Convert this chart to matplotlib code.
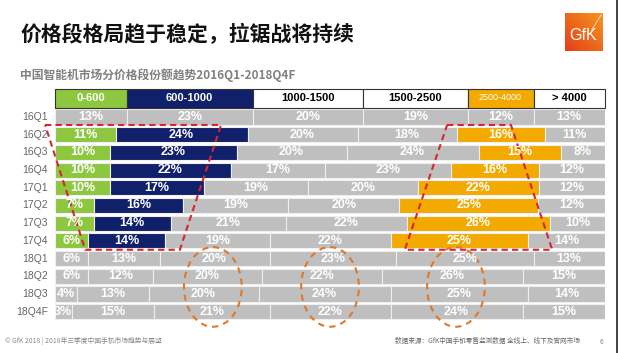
import numpy as np
import matplotlib.pyplot as plt
from matplotlib.patches import Ellipse, Polygon

plt.rcParams['font.family'] = ['Noto Sans CJK SC', 'DejaVu Sans']

# data
periods = ['16Q1', '16Q2', '16Q3', '16Q4', '17Q1', '17Q2', '17Q3', '17Q4',
           '18Q1', '18Q2', '18Q3', '18Q4F']
bands = ['0-600', '600-1000', '1000-1500', '1500-2500', '2500-4000', '> 4000']
p0_600 = [13, 11, 10, 10, 10, 7, 7, 6, 6, 6, 4, 3]
p600_1000 = [23, 24, 23, 22, 17, 16, 14, 14, 13, 12, 13, 15]
p1000_1500 = [20, 20, 20, 17, 19, 19, 21, 19, 20, 20, 20, 21]
p1500_2500 = [19, 18, 24, 23, 20, 20, 22, 22, 23, 22, 24, 22]
p2500_4000 = [12, 16, 15, 16, 22, 25, 26, 25, 25, 26, 25, 24]
p4000 = [13, 11, 8, 12, 12, 12, 10, 14, 13, 15, 14, 15]

series = np.array([p0_600, p600_1000, p1000_1500, p1500_2500, p2500_4000, p4000], dtype=float)
shares = series / series.sum(axis=0) * 100  # rows drawn as 100% bars

GREEN, NAVY, GRAY, ORANGE = '#8DC63F', '#10206A', '#BFBFBF', '#F2A900'
band_colors = [GREEN, NAVY, GRAY, GRAY, ORANGE, GRAY]
highlight_rows = range(1, 8)        # 16Q2 .. 17Q4
highlight_bands = [0, 1, 4]

W, H = 620, 353
fig = plt.figure(figsize=(W / 100, H / 100), dpi=100)
top, bottom = 88, 330
ax = fig.add_axes([55 / W, 1 - bottom / H, 550 / W, (bottom - top) / H])

row_h = 17.7
y0 = 117
ax.set_xlim(0, 100)
ax.set_ylim((bottom - y0) / row_h, (top - y0) / row_h)
ax.axis('off')

num_font = ['Liberation Sans', 'DejaVu Sans']

# bars
y = np.arange(len(periods))
left = np.zeros(len(periods))
for b in range(len(bands)):
    cols = [band_colors[b] if (i in highlight_rows and b in highlight_bands) else GRAY
            for i in range(len(periods))]
    ax.barh(y, shares[b], left=left, height=0.85, color=cols,
            edgecolor='#EFEFEF', linewidth=0.8)
    for i in range(len(periods)):
        ax.text(left[i] + shares[b][i] / 2, i, f'{int(series[b][i])}%',
                ha='center', va='center', color='white', fontsize=9,
                fontweight='bold', family=num_font)
    left += shares[b]

# row labels
for i, p in enumerate(periods):
    ax.text(-1.3, i, p, ha='right', va='center', fontsize=7.5, color='#666666',
            family=num_font, clip_on=False)

# header boxes (use 16Q1 proportions)
hy = (98 - y0) / row_h
head_fill = [GREEN, NAVY, 'white', 'white', ORANGE, 'white']
head_text = ['white', 'white', 'black', 'black', 'white', 'black']
hl = 0
for b in range(len(bands)):
    ax.barh(hy, shares[b][0], left=hl, height=19 / row_h, color=head_fill[b],
            edgecolor='#333333', linewidth=0.8, clip_on=False)
    small = bands[b] == '2500-4000'
    ax.text(hl + shares[b][0] / 2, hy, bands[b], ha='center', va='center',
            color=head_text[b], fontsize=6.5 if small else 8,
            fontweight='normal' if small else 'bold', family=num_font)
    hl += shares[b][0]

# red dashed trapezoids
red = '#D7262F'
ax.add_patch(Polygon([(-1.8, 0.45), (30.2, 0.45), (22.7, 7.5), (5.5, 7.5)],
                     closed=True, fill=False, ls=(0, (3, 2)), lw=1.5,
                     edgecolor=red, clip_on=False))
ax.add_patch(Polygon([(71.3, 0.45), (82.9, 0.45), (90.4, 7.5), (63.6, 7.5)],
                     closed=True, fill=False, ls=(0, (3, 2)), lw=1.5,
                     edgecolor=red, clip_on=False))

# orange dashed ellipses over 2018
for cx in [28.7, 50.0, 72.9]:
    ax.add_patch(Ellipse((cx, 9.6), 10.5, 4.5, fill=False, ls=(0, (3, 2.5)),
                         lw=1.5, edgecolor='#E0782A', clip_on=False))

# titles
fig.text(20 / W, 1 - 34 / H, '价格段格局趋于稳定，拉锯战将持续', fontsize=15,
         fontweight='bold', color='#111111', va='center', ha='left')
fig.text(20 / W, 1 - 75 / H, '中国智能机市场分价格段份额趋势2016Q1-2018Q4F',
         fontsize=8.5, fontweight='bold', color='#808080', va='center', ha='left')

# footer
fig.text(5 / W, 1 - 341 / H, '© GfK 2018 | 2018年三季度中国手机市场趋势与展望',
         fontsize=4.9, color='#888888', va='center', ha='left')
fig.text(395 / W, 1 - 341 / H, '数据来源：GfK中国手机零售监测数据 全线上、线下及官网市场',
         fontsize=4.8, color='#666666', va='center', ha='left')
fig.text(600 / W, 1 - 342 / H, '6', fontsize=4.8, color='#888888', va='center')

# GfK logo
lax = fig.add_axes([565 / W, 1 - 51 / H, 38 / W, 38 / H])
gx, gy = np.meshgrid(np.linspace(0, 1, 50), np.linspace(0, 1, 50))
lax.imshow(gx + gy, cmap=plt.matplotlib.colors.LinearSegmentedColormap.from_list(
    'gfk', ['#E2401C', '#F7941D']), origin='lower', extent=(0, 1, 0, 1))
lax.plot([0.7, 0.95], [0.55, 0.95], color='white', lw=0.6, alpha=0.8)
lax.text(0.48, 0.42, 'GfK', color='white', fontsize=11.5, ha='center', va='center',
         family=num_font)
lax.set_xlim(0, 1)
lax.set_ylim(0, 1)
lax.axis('off')

# slide border on the right
fig.add_artist(plt.Line2D([617 / W, 617 / W], [0, 1], color='#222222', lw=1.2))

fig.savefig('out.png', dpi=100)
